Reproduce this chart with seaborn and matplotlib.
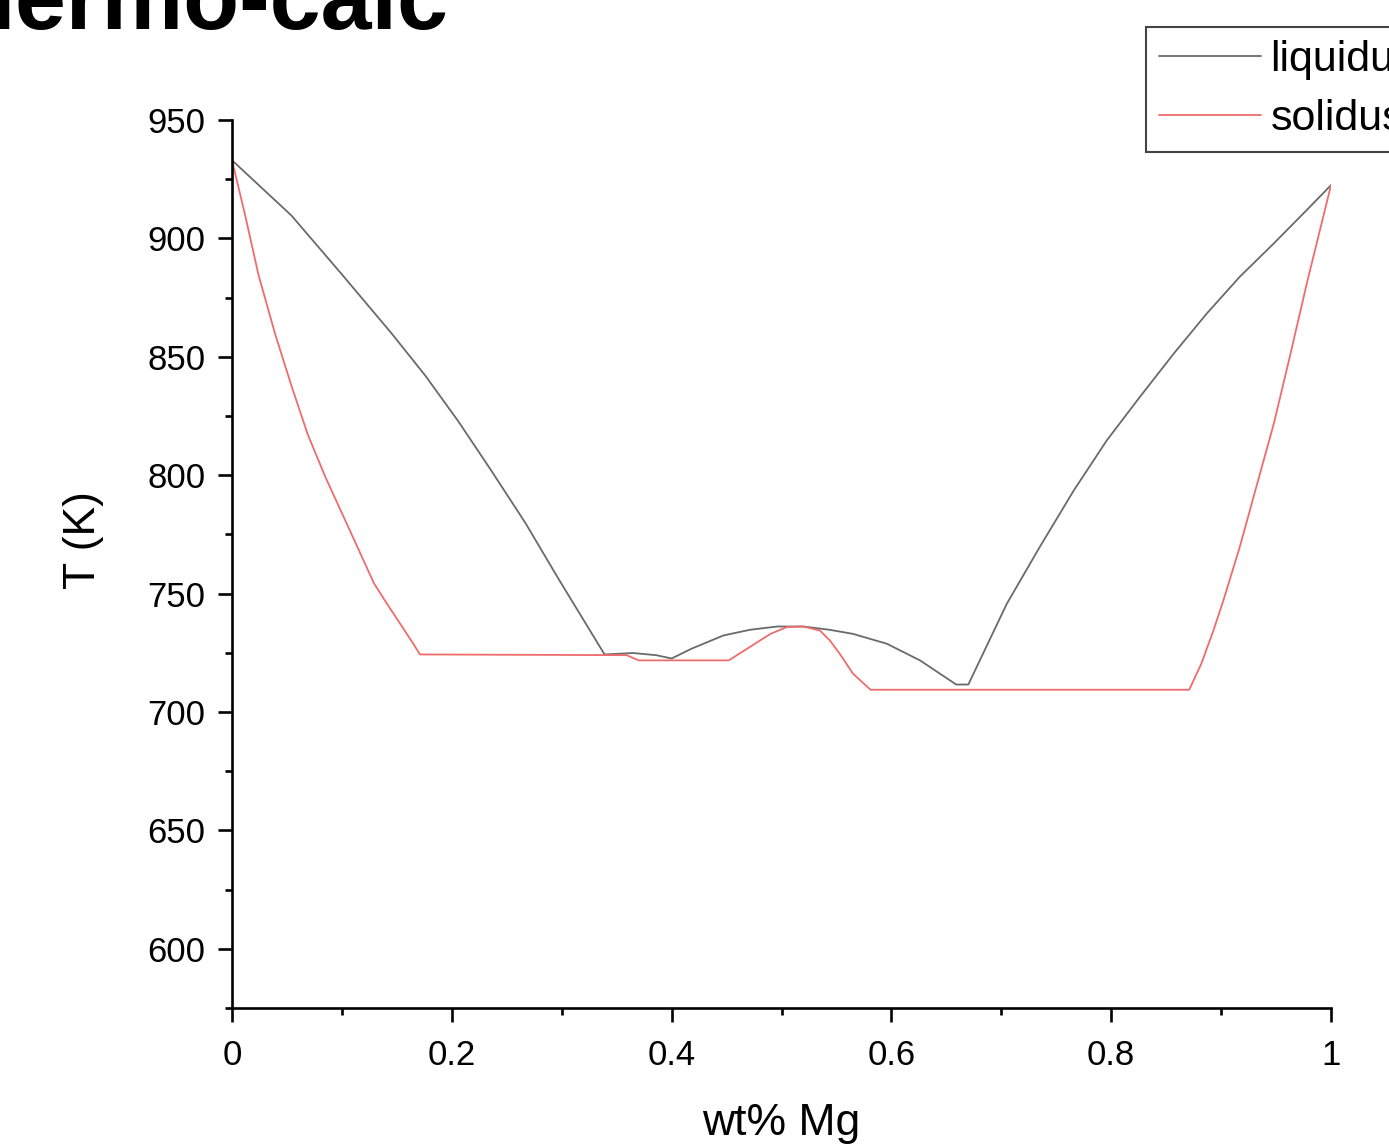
import matplotlib
matplotlib.use("Agg")
import matplotlib.pyplot as plt
from matplotlib.ticker import MultipleLocator, FixedLocator
import seaborn as sns
import pandas as pd

# ---- data ----
liq_x = [0.000, 0.054, 0.100, 0.145, 0.176, 0.206, 0.236, 0.267, 0.297, 0.339,
         0.365, 0.386, 0.400, 0.418, 0.447, 0.471, 0.496, 0.520, 0.544, 0.565,
         0.596, 0.626, 0.659, 0.670, 0.705, 0.735, 0.766, 0.796, 0.826, 0.857,
         0.887, 0.917, 0.948, 0.978, 1.000]
liq_T = [933.0, 909.7, 884.8, 860.0, 842.0, 822.7, 801.9, 779.8, 756.3, 724.3,
         724.9, 724.0, 722.6, 726.7, 732.3, 734.7, 736.1, 736.1, 734.7, 733.0,
         728.8, 721.8, 711.6, 711.6, 745.7, 769.7, 793.6, 814.7, 833.0, 851.4,
         868.3, 883.8, 897.9, 912.0, 922.5]

sol_x = [0.000, 0.012, 0.024, 0.039, 0.054, 0.069, 0.085, 0.100, 0.115, 0.129,
         0.141, 0.153, 0.165, 0.171, 0.359, 0.370, 0.452, 0.471, 0.490, 0.505,
         0.520, 0.535, 0.544, 0.553, 0.565, 0.581, 0.871, 0.882, 0.893, 0.902,
         0.917, 0.932, 0.948, 0.963, 0.978, 1.000]
sol_T = [933.0, 909.7, 884.8, 860.0, 837.9, 817.1, 799.2, 784.0, 768.8, 754.5,
         745.7, 737.3, 728.8, 724.3, 724.0, 721.8, 721.8, 727.4, 733.0, 735.9,
         736.1, 734.4, 730.2, 724.6, 716.2, 709.4, 709.4, 720.4, 734.4, 747.0,
         769.7, 795.0, 821.8, 851.0, 881.0, 922.5]

series_names = ["liquidus", "solidus"]
series_colors = ["#6a6a6a", "#ee6c6c"]
x_ticks = [0, 0.2, 0.4, 0.6, 0.8, 1.0]
x_tick_labels = ["0", "0.2", "0.4", "0.6", "0.8", "1"]
y_ticks = [600, 650, 700, 750, 800, 850, 900, 950]

df = pd.concat([
    pd.DataFrame({"x": liq_x, "T": liq_T, "phase": series_names[0]}),
    pd.DataFrame({"x": sol_x, "T": sol_T, "phase": series_names[1]}),
], ignore_index=True)

# ---- style ----
sns.set_style("ticks")
plt.rcParams["font.family"] = ["Liberation Sans", "DejaVu Sans"]
plt.rcParams["text.color"] = "black"
plt.rcParams["axes.labelcolor"] = "black"
plt.rcParams["xtick.color"] = "black"
plt.rcParams["ytick.color"] = "black"

W, H = 1389, 1146
fig = plt.figure(figsize=(W / 100, H / 100), dpi=100)
ax = fig.add_axes([232 / W, 138 / H, 1099 / W, 888 / H])

sns.lineplot(data=df, x="x", y="T", hue="phase", hue_order=series_names,
             palette=series_colors, estimator=None, sort=False,
             linewidth=1.3, ax=ax, legend=True)

ax.set_xlim(0, 1)
ax.set_ylim(575, 950)
ax.xaxis.set_major_locator(FixedLocator(x_ticks))
ax.set_xticklabels(x_tick_labels)
ax.xaxis.set_minor_locator(MultipleLocator(0.1))
ax.yaxis.set_major_locator(FixedLocator(y_ticks))
ax.yaxis.set_minor_locator(MultipleLocator(25))

for s in ["top", "right"]:
    ax.spines[s].set_visible(False)
for s in ["left", "bottom"]:
    ax.spines[s].set_linewidth(1.9)
    ax.spines[s].set_color("black")

ax.tick_params(axis="both", which="major", direction="out", length=10,
               width=1.9, labelsize=25, colors="black")
ax.tick_params(axis="both", which="minor", direction="out", length=5,
               width=1.9)
ax.tick_params(axis="x", which="major", pad=12)
ax.tick_params(axis="y", which="major", pad=9)

ax.set_xlabel("wt% Mg", fontsize=32, color="black")
ax.set_ylabel("T (K)", fontsize=32, color="black")
ax.xaxis.set_label_coords(0.5, -0.107)
ax.yaxis.set_label_coords(-0.1165, 0.527)

# legend (partly outside the figure, cropped as in the reference)
handles, labels = ax.get_legend_handles_labels()
leg = ax.legend(handles, labels, loc="upper left",
                bbox_to_anchor=(1146 / W, 1 - 27 / H),
                bbox_transform=fig.transFigure, borderaxespad=0,
                fontsize=31, frameon=True, fancybox=False, framealpha=1,
                edgecolor="#444444", borderpad=0.3, labelspacing=0.45,
                handlelength=2.37, handletextpad=0.22)
leg.get_frame().set_linewidth(1.5)
for line in leg.get_lines():
    line.set_linewidth(1.3)
for t in leg.get_texts():
    t.set_color("black")

# partially visible title at the top edge
fig.text(448 / W, 1 - 29 / H, "Thermo-calc", fontsize=66, fontweight="bold",
         ha="right", va="baseline", color="black")

fig.savefig("out.png", dpi=100)
